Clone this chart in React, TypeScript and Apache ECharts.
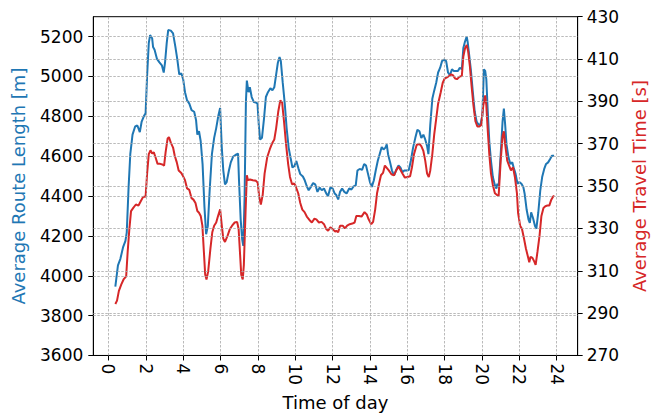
import React, { useEffect, useRef } from "react";
import * as echarts from "echarts";

const blueHours = [
  0.37, 0.51, 0.64, 0.78, 0.91, 0.98, 1.08, 1.17, 1.29, 1.43, 1.55, 1.68, 1.78, 1.9, 1.99,
  2.07, 2.16, 2.23, 2.34, 2.39, 2.47, 2.6, 2.72, 2.86, 2.96, 3.03, 3.12, 3.2, 3.34, 3.46,
  3.58, 3.69, 3.79, 3.9, 4.0, 4.1, 4.21, 4.33, 4.45, 4.59, 4.69, 4.76, 4.85, 4.94, 5.04,
  5.14, 5.23, 5.32, 5.42, 5.54, 5.66, 5.77, 5.89, 5.98, 6.07, 6.15, 6.24, 6.33, 6.45, 6.55,
  6.67, 6.8, 6.94, 6.99, 7.08, 7.16, 7.22, 7.29, 7.36, 7.41, 7.5, 7.57, 7.67, 7.78, 7.9,
  7.98, 8.05, 8.12, 8.22, 8.33, 8.43, 8.54, 8.67, 8.78, 8.88, 8.98, 9.07, 9.16, 9.23, 9.33,
  9.44, 9.54, 9.65, 9.75, 9.85, 9.96, 10.06, 10.17, 10.27, 10.41, 10.51, 10.62, 10.72, 10.84, 10.96,
  11.07, 11.19, 11.31, 11.42, 11.54, 11.66, 11.76, 11.88, 12.0, 12.11, 12.2, 12.3, 12.4, 12.51, 12.63,
  12.75, 12.89, 13.01, 13.13, 13.24, 13.33, 13.45, 13.58, 13.69, 13.79, 13.9, 14.0, 14.1, 14.21, 14.31,
  14.42, 14.52, 14.63, 14.73, 14.83, 14.9, 14.97, 15.08, 15.18, 15.29, 15.39, 15.53, 15.63, 15.74, 15.84,
  15.96, 16.08, 16.19, 16.31, 16.43, 16.54, 16.65, 16.75, 16.86, 16.96, 17.06, 17.13, 17.23, 17.34, 17.44,
  17.55, 17.65, 17.76, 17.86, 17.97, 18.08, 18.18, 18.28, 18.39, 18.49, 18.6, 18.71, 18.81, 18.92, 19.0,
  19.09, 19.18, 19.23, 19.3, 19.4, 19.51, 19.61, 19.71, 19.82, 19.92, 20.02, 20.1, 20.17, 20.23, 20.3,
  20.39, 20.48, 20.58, 20.69, 20.77, 20.82, 20.89, 21.0, 21.1, 21.17, 21.24, 21.31, 21.42, 21.52, 21.62,
  21.69, 21.8, 21.9, 22.0, 22.11, 22.21, 22.28, 22.39, 22.49, 22.56, 22.63, 22.73, 22.84, 22.91, 23.01,
  23.12, 23.22, 23.33, 23.43, 23.54, 23.64, 23.74, 23.86,
];
const blueRouteLength = [
  3945, 4052, 4085, 4142, 4175, 4216, 4446, 4610, 4708, 4749, 4754, 4721, 4774, 4801, 4815,
  5003, 5167, 5208, 5192, 5148, 5134, 5088, 5072, 5056, 5020, 5069, 5167, 5233, 5230, 5216,
  5151, 5085, 5011, 5016, 4987, 4921, 4880, 4864, 4831, 4823, 4782, 4708, 4725, 4675, 4560,
  4347, 4208, 4249, 4429, 4610, 4692, 4741, 4806, 4842, 4642, 4528, 4459, 4470, 4528, 4569,
  4597, 4606, 4613, 4479, 4282, 4183, 4150, 4396, 4872, 4979, 4921, 4946, 4897, 4872, 4869,
  4864, 4757, 4683, 4692, 4790, 4897, 4921, 4941, 4931, 4946, 5011, 5069, 5098, 5077, 4970,
  4864, 4741, 4642, 4592, 4543, 4551, 4576, 4539, 4510, 4498, 4479, 4449, 4429, 4446, 4465,
  4459, 4421, 4443, 4429, 4438, 4413, 4400, 4443, 4438, 4413, 4405, 4383, 4421, 4438, 4421,
  4413, 4438, 4433, 4449, 4454, 4528, 4536, 4531, 4561, 4553, 4510, 4470, 4446, 4479, 4528,
  4577, 4610, 4646, 4634, 4643, 4659, 4610, 4569, 4528, 4503, 4528, 4553, 4544, 4520, 4528,
  4528, 4531, 4577, 4643, 4692, 4733, 4725, 4692, 4708, 4684, 4651, 4610, 4757, 4888, 4929,
  4970, 5020, 5044, 5077, 5085, 5077, 5020, 5006, 5036, 5028, 5028, 5028, 5044, 5036, 5143,
  5175, 5200, 5175, 5118, 5036, 4921, 4823, 4774, 4757, 4760, 4806, 5036, 5028, 4987, 4839,
  4675, 4577, 4495, 4454, 4438, 4462, 4446, 4610, 4774, 4839, 4757, 4659, 4593, 4561, 4569,
  4544, 4510, 4462, 4470, 4462, 4446, 4413, 4331, 4282, 4266, 4318, 4290, 4249, 4236, 4315,
  4429, 4495, 4536, 4561, 4569, 4585, 4602, 4602,
];

const redHours = [
  0.37, 0.46, 0.56, 0.69, 0.81, 0.95, 1.03, 1.12, 1.21, 1.33, 1.47, 1.61, 1.73, 1.85, 1.99,
  2.07, 2.16, 2.25, 2.34, 2.43, 2.52, 2.63, 2.77, 2.89, 2.98, 3.06, 3.17, 3.24, 3.34, 3.46,
  3.55, 3.66, 3.76, 3.9, 4.0, 4.1, 4.21, 4.33, 4.45, 4.55, 4.66, 4.76, 4.85, 4.94, 5.03,
  5.11, 5.18, 5.25, 5.34, 5.46, 5.56, 5.66, 5.77, 5.86, 5.98, 6.07, 6.15, 6.24, 6.38, 6.5,
  6.62, 6.76, 6.89, 6.97, 7.04, 7.11, 7.19, 7.25, 7.34, 7.41, 7.47, 7.58, 7.73, 7.9, 7.99,
  8.07, 8.16, 8.26, 8.36, 8.5, 8.64, 8.78, 8.88, 8.98, 9.09, 9.2, 9.3, 9.4, 9.51, 9.62,
  9.72, 9.83, 9.94, 10.0, 10.16, 10.27, 10.38, 10.5, 10.62, 10.76, 10.89, 11.03, 11.13, 11.27, 11.41,
  11.54, 11.66, 11.76, 11.88, 12.0, 12.14, 12.2, 12.3, 12.4, 12.54, 12.66, 12.78, 12.92, 13.06, 13.18,
  13.27, 13.41, 13.55, 13.71, 13.83, 13.93, 14.07, 14.17, 14.28, 14.38, 14.49, 14.59, 14.7, 14.8, 14.9,
  15.01, 15.15, 15.29, 15.39, 15.53, 15.63, 15.74, 15.87, 16.01, 16.15, 16.25, 16.36, 16.5, 16.64, 16.75,
  16.86, 16.96, 17.06, 17.15, 17.23, 17.34, 17.44, 17.55, 17.65, 17.79, 17.9, 18.0, 18.1, 18.24, 18.35,
  18.45, 18.56, 18.66, 18.8, 18.92, 19.0, 19.09, 19.18, 19.26, 19.35, 19.44, 19.54, 19.65, 19.75, 19.86,
  19.96, 20.07, 20.17, 20.23, 20.3, 20.39, 20.48, 20.58, 20.69, 20.79, 20.89, 21.0, 21.1, 21.17, 21.24,
  21.35, 21.45, 21.55, 21.66, 21.76, 21.87, 21.93, 22.04, 22.14, 22.25, 22.35, 22.46, 22.53, 22.6, 22.7,
  22.8, 22.87, 22.97, 23.08, 23.18, 23.29, 23.39, 23.5, 23.6, 23.71, 23.81, 23.88,
];
const redTravelTime = [
  294.3, 295.9, 300.5, 303.6, 305.9, 307.4, 319, 329.7, 338.2, 339.7, 341.3, 340.8, 342.8, 344.8, 345.1,
  355.9, 365.1, 366.9, 365.4, 365.9, 363.6, 360.5, 360.5, 360.2, 359.7, 365.9, 372.5, 373.1, 370.5, 368.2,
  364.3, 361.2, 357.4, 356.2, 354.6, 352.8, 348.9, 348.2, 344.3, 343.6, 342, 338.2, 337.4, 335.9, 331.3,
  319, 308.2, 305.9, 309.7, 320.5, 328.2, 331.3, 332.8, 335.6, 339, 331.3, 325.1, 323.6, 326.6, 329.7,
  331.3, 332.8, 333.1, 329.7, 319, 308.2, 305.9, 312.8, 337.4, 355.1, 352.8, 353.1, 352.8, 352.5, 351.6,
  345.1, 341.3, 345.9, 355.9, 363.6, 367.4, 370.5, 372, 377.4, 385.1, 390.5, 389.4, 380.5, 369.7, 360.5,
  354.3, 350.9, 351.2, 350.5, 346.6, 342, 338.9, 337.7, 335.6, 334, 332.8, 334.6, 334.3, 332.8, 333.1,
  332, 329.7, 328.9, 330.5, 329.7, 328.5, 328.9, 328.2, 331.3, 331.3, 330, 331.3, 332, 332.3, 332.8,
  335.9, 335.9, 335.6, 337.7, 336.6, 334.3, 332, 333.1, 338.9, 346.6, 351.2, 355.1, 356.2, 359.7, 358.6,
  357.4, 355.6, 355.1, 357.1, 359.2, 357.7, 355.9, 354, 354.3, 354.6, 358.9, 365.1, 369.4, 370, 368.9,
  366.6, 362, 355.9, 354.3, 357.4, 365.1, 374.3, 382, 388.9, 394.3, 398.9, 400.8, 401.2, 402, 402.8,
  402.3, 400.8, 400.5, 401.7, 402, 411.2, 415.1, 416.6, 413.5, 406.6, 397.4, 388.2, 380.5, 378.2, 378.2,
  378.9, 388.2, 392.8, 388.2, 377.4, 365.1, 355.9, 350.5, 346.6, 345.9, 345.4, 362, 373.6, 375.9, 369.7,
  362, 359.7, 357.4, 358.9, 354.3, 346.6, 337.4, 331.3, 329.7, 325.1, 320.5, 316.6, 314, 316.6, 316.1,
  314.3, 312.8, 319, 326.6, 335.9, 339.7, 340.5, 340.8, 340.8, 343.6, 345.1, 345.4,
];

const xTicks = [0, 2, 4, 6, 8, 10, 12, 14, 16, 18, 20, 22, 24];
const leftTicks = [3600, 3800, 4000, 4200, 4400, 4600, 4800, 5000, 5200];
const rightTicks = [270, 290, 310, 330, 350, 370, 390, 410, 430];

const FONT = "DejaVu Sans";
const BLUE = "#1f77b4";
const RED = "#d62728";
const FS = 17;
const NAME_FS = 18;

export default function App() {
  const ref = useRef<HTMLDivElement>(null);
  useEffect(() => {
    document.body.style.margin = "0";
    const chart = echarts.init(ref.current!, null, { renderer: "svg" });
    const gridLineStyle = { color: "#a8a8a8", type: [2.5, 1.5] as any, width: 0.8 };
    const labelStyle = {
      color: "#000",
      fontSize: FS,
      fontFamily: FONT,
      formatter: (v: number) => String(v),
    };
    const option: any = {
      animation: false,
      textStyle: { fontFamily: FONT },
      grid: {
        left: 93.3,
        right: 65.7,
        top: 16.7,
        bottom: 54.3,
        show: true,
        borderColor: "#000",
        borderWidth: 1,
      },
      xAxis: {
        type: "value",
        min: -0.81,
        max: 25.12,
        splitLine: { show: false },
        axisLine: { onZero: false, lineStyle: { color: "#000", width: 1 } },
        axisTick: { show: true, customValues: xTicks, length: 5, lineStyle: { color: "#000" } },
        axisLabel: { customValues: xTicks, rotate: -90, margin: 8, ...labelStyle },
        name: "Time of day",
        nameLocation: "middle",
        nameGap: 36,
        nameTextStyle: { color: "#000", fontSize: NAME_FS, fontFamily: FONT },
      },
      yAxis: [
        {
          type: "value",
          position: "left",
          min: 3600,
          max: 5300,
          splitLine: { show: false },
          axisLine: { show: true, onZero: false, lineStyle: { color: "#000", width: 1 } },
          axisTick: { show: true, customValues: leftTicks, length: 5, lineStyle: { color: "#000" } },
          axisLabel: { customValues: leftTicks, margin: 10, ...labelStyle },
          name: "Average Route Length [m]",
          nameLocation: "middle",
          nameGap: 66,
          nameTextStyle: { color: BLUE, fontSize: NAME_FS, fontFamily: FONT },
        },
        {
          type: "value",
          position: "right",
          min: 270,
          max: 430,
          splitLine: { show: false },
          axisLine: { show: true, onZero: false, lineStyle: { color: "#000", width: 1 } },
          axisTick: { show: true, customValues: rightTicks, length: 5, lineStyle: { color: "#000" } },
          axisLabel: { customValues: rightTicks, margin: 9, ...labelStyle },
          name: "Average Travel Time [s]",
          nameLocation: "middle",
          nameGap: 51,
          nameTextStyle: { color: RED, fontSize: NAME_FS, fontFamily: FONT },
        },
      ],
      series: [
        {
          type: "line",
          xAxisIndex: 0,
          yAxisIndex: 0,
          data: [],
          symbol: "none",
          silent: true,
          z: 1,
          markLine: {
            silent: true,
            animation: false,
            symbol: ["none", "none"],
            label: { show: false },
            lineStyle: gridLineStyle,
            emphasis: { disabled: true },
            data: [
              ...xTicks.map((v) => ({ xAxis: v })),
              ...leftTicks.slice(1).map((v) => ({ yAxis: v })),
            ],
          },
        },
        {
          type: "line",
          xAxisIndex: 0,
          yAxisIndex: 1,
          data: [],
          symbol: "none",
          silent: true,
          z: 1,
          markLine: {
            silent: true,
            animation: false,
            symbol: ["none", "none"],
            label: { show: false },
            lineStyle: gridLineStyle,
            emphasis: { disabled: true },
            data: rightTicks.slice(1, -1).map((v) => ({ yAxis: v })),
          },
        },
        {
          type: "line",
          name: "Average Route Length",
          xAxisIndex: 0,
          yAxisIndex: 0,
          data: blueHours.map((h, i) => [h, blueRouteLength[i]]),
          symbol: "none",
          showSymbol: false,
          lineStyle: { color: BLUE, width: 2 },
          itemStyle: { color: BLUE },
          z: 3,
        },
        {
          type: "line",
          name: "Average Travel Time",
          xAxisIndex: 0,
          yAxisIndex: 1,
          data: redHours.map((h, i) => [h, redTravelTime[i]]),
          symbol: "none",
          showSymbol: false,
          lineStyle: { color: RED, width: 2 },
          itemStyle: { color: RED },
          z: 4,
        },
      ],
    };
    chart.setOption(option);
    return () => chart.dispose();
  }, []);
  return <div ref={ref} style={{ width: 656, height: 416 }} />;
}
